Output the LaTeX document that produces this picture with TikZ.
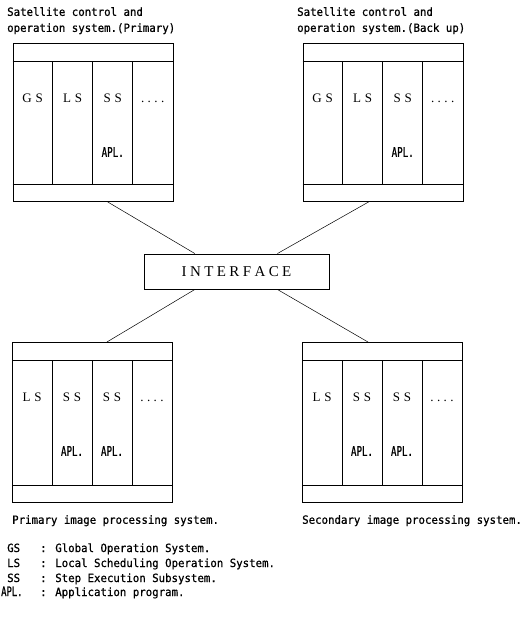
\documentclass[tikz,border=0pt]{standalone}
\usepackage{fontspec}
\setmainfont{Liberation Serif}
\newfontfamily\condmono[FakeStretch=0.95,FakeBold=0.8]{DejaVu Sans Mono}
\newfontfamily\aplmono[FakeStretch=0.68,FakeBold=0.8]{DejaVu Sans Mono}
\usetikzlibrary{calc}
\newcommand\ks{\kern 3.8pt}
\newcommand\kd{\kern 3.4pt}
\newcommand\ki{\kern 3.4pt}
\begin{document}
\begin{tikzpicture}[x=1pt,y=-1pt,
 sysbox/.style={draw, line width=0.9pt, minimum width=160pt, inner sep=0pt, anchor=north west},
 divider/.style={line width=0.5pt},
 collabel/.style={font=\fontsize{13}{15}\selectfont, inner sep=0pt, anchor=base},
 apl/.style={font=\aplmono\fontsize{13.5}{15}\selectfont, inner sep=0pt},
 caption/.style={font=\condmono\fontsize{11.3}{16}\selectfont, align=left, anchor=north west, inner sep=0pt},
 legend/.style={font=\condmono\fontsize{11.3}{16}\selectfont, anchor=base west, inner sep=0pt},
 ifbox/.style={draw, line width=0.9pt, minimum width=185pt, minimum height=35pt, inner sep=0pt, font=\fontsize{15}{17}\selectfont},
 link/.style={line width=0.5pt}]
\useasboundingbox (0,0) rectangle (525,619);

% system boxes
\foreach \b/\x/\y/\h in {tl/12.7/43/158, tr/302.7/43/158, bl/12/342/160, br/302/342/160}{
  \node[sysbox, minimum height=\h pt] (\b) at (\x,\y) {};
  \draw[divider] ($(\b.north west)+(0,18)$) -- ($(\b.north east)+(0,18)$);
  \draw[divider] ($(\b.south west)+(0,-18)$) -- ($(\b.south east)+(0,-18)$);
  \foreach \i in {1,2,3}
    \draw[divider] ($(\b.north west)+(40*\i,18)$) -- ($(\b.south west)+(40*\i,-18)$);
}

% column labels
\node[collabel] (tl-a) at ($(tl.north west)+(20,59)$) {G\ks S};
\node[collabel] (tl-b) at ($(tl.north west)+(60,59)$) {L\ks S};
\node[collabel] (tl-c) at ($(tl.north west)+(100,59)$) {S\ks S};
\node[collabel] (tl-d) at ($(tl.north west)+(140,59)$) {.\kd.\kd.\kd.};
\node[apl] (tl-apl) at ($(tl.north west)+(100,109)$) {APL.};

\node[collabel] (tr-a) at ($(tr.north west)+(20,59)$) {G\ks S};
\node[collabel] (tr-b) at ($(tr.north west)+(60,59)$) {L\ks S};
\node[collabel] (tr-c) at ($(tr.north west)+(100,59)$) {S\ks S};
\node[collabel] (tr-d) at ($(tr.north west)+(140,59)$) {.\kd.\kd.\kd.};
\node[apl] (tr-apl) at ($(tr.north west)+(100,109)$) {APL.};

\node[collabel] (bl-a) at ($(bl.north west)+(20,59)$) {L\ks S};
\node[collabel] (bl-b) at ($(bl.north west)+(60,59)$) {S\ks S};
\node[collabel] (bl-c) at ($(bl.north west)+(100,59)$) {S\ks S};
\node[collabel] (bl-d) at ($(bl.north west)+(140,59)$) {.\kd.\kd.\kd.};
\node[apl] (bl-apl1) at ($(bl.north west)+(60,109)$) {APL.};
\node[apl] (bl-apl2) at ($(bl.north west)+(100,109)$) {APL.};

\node[collabel] (br-a) at ($(br.north west)+(20,59)$) {L\ks S};
\node[collabel] (br-b) at ($(br.north west)+(60,59)$) {S\ks S};
\node[collabel] (br-c) at ($(br.north west)+(100,59)$) {S\ks S};
\node[collabel] (br-d) at ($(br.north west)+(140,59)$) {.\kd.\kd.\kd.};
\node[apl] (br-apl1) at ($(br.north west)+(60,109)$) {APL.};
\node[apl] (br-apl2) at ($(br.north west)+(100,109)$) {APL.};

% interface
\node[ifbox] (iface) at (236.5,271.5) {I\ki N\ki T\ki E\ki R\ki F\ki A\ki C\ki E};

% connectors
\draw[link] ($(tl.south west)!0.59!(tl.south east)$) -- ($(iface.north west)!0.276!(iface.north east)$);
\draw[link] ($(tr.south west)!0.41!(tr.south east)$) -- ($(iface.north west)!0.72!(iface.north east)$);
\draw[link] ($(iface.south west)!0.276!(iface.south east)$) -- ($(bl.north west)!0.59!(bl.north east)$);
\draw[link] ($(iface.south west)!0.72!(iface.south east)$) -- ($(br.north west)!0.41!(br.north east)$);

% captions
\node[caption] (cap-tl) at (7,7) {Satellite control and\\operation system.(Primary)};
\node[caption] (cap-tr) at (297,7) {Satellite control and\\operation system.(Back up)};
\node[caption] (cap-bl) at (12,515) {Primary image processing system.};
\node[caption] (cap-br) at (302,515) {Secondary image processing system.};

% legend
\node[legend] (lg1) at (7,552) {GS};
\node[legend] (lg1d) at (40,552) {: Global Operation System.};
\node[legend] (lg2) at (7,567) {LS};
\node[legend] (lg2d) at (40,567) {: Local Scheduling Operation System.};
\node[legend] (lg3) at (7,582) {SS};
\node[legend] (lg3d) at (40,582) {: Step Execution Subsystem.};
\node[legend, font=\aplmono\fontsize{13}{16}\selectfont] (lg4) at (1,596) {APL.};
\node[legend] (lg4d) at (40,596) {: Application program.};
\end{tikzpicture}
\end{document}
